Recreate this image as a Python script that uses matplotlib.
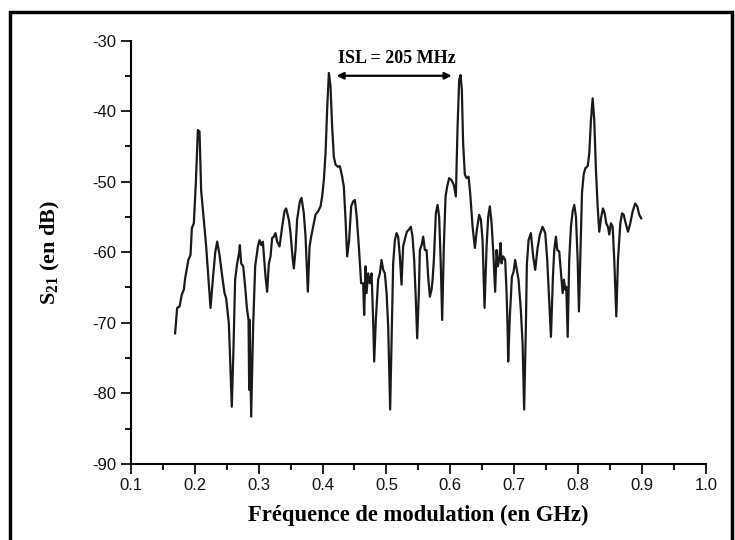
import numpy as np
import matplotlib
matplotlib.use("Agg")
import matplotlib.pyplot as plt
from matplotlib.patches import Rectangle
from matplotlib.ticker import MultipleLocator

plt.rcParams["mathtext.fontset"] = "custom"
plt.rcParams["mathtext.rm"] = "Liberation Serif:bold"
plt.rcParams["mathtext.bf"] = "Liberation Serif:bold"
plt.rcParams["axes.unicode_minus"] = False

# measured S21 response, frequency in GHz and magnitude in dB
freq = [
    0.1693, 0.1725, 0.1762, 0.1798, 0.1830, 0.1850, 0.1900, 0.1934, 0.1955, 0.1986,
    0.2017, 0.2049, 0.2075, 0.2100, 0.2142, 0.2179, 0.2216, 0.2247, 0.2283, 0.2320,
    0.2351, 0.2388, 0.2424, 0.2466, 0.2491, 0.2534, 0.2554, 0.2580, 0.2607, 0.2632,
    0.2664, 0.2695, 0.2706, 0.2727, 0.2758, 0.2789, 0.2816, 0.2842, 0.2852, 0.2860,
    0.2883, 0.2914, 0.2946, 0.2988, 0.3014, 0.3040, 0.3066, 0.3108, 0.3133, 0.3160,
    0.3186, 0.3211, 0.3238, 0.3264, 0.3290, 0.3327, 0.3368, 0.3405, 0.3430, 0.3473,
    0.3499, 0.3531, 0.3551, 0.3577, 0.3602, 0.3645, 0.3671, 0.3707, 0.3734, 0.3770,
    0.3797, 0.3822, 0.3864, 0.3890, 0.3931, 0.3969, 0.3994, 0.4020, 0.4047, 0.4072,
    0.4099, 0.4125, 0.4150, 0.4177, 0.4204, 0.4240, 0.4271, 0.4307, 0.4333, 0.4360,
    0.4385, 0.4416, 0.4448, 0.4479, 0.4506, 0.4535, 0.4568, 0.4604, 0.4636, 0.4651,
    0.4674, 0.4689, 0.4714, 0.4740, 0.4767, 0.4792, 0.4808, 0.4834, 0.4870, 0.4897,
    0.4923, 0.4949, 0.4975, 0.5002, 0.5027, 0.5058, 0.5085, 0.5105, 0.5132, 0.5158,
    0.5183, 0.5210, 0.5236, 0.5261, 0.5293, 0.5320, 0.5351, 0.5382, 0.5408, 0.5434,
    0.5460, 0.5481, 0.5507, 0.5523, 0.5550, 0.5575, 0.5601, 0.5628, 0.5653, 0.5680,
    0.5706, 0.5722, 0.5742, 0.5773, 0.5800, 0.5825, 0.5851, 0.5872, 0.5898, 0.5925,
    0.5950, 0.5981, 0.6019, 0.6055, 0.6086, 0.6113, 0.6138, 0.6160, 0.6180, 0.6200,
    0.6227, 0.6254, 0.6285, 0.6310, 0.6348, 0.6384, 0.6415, 0.6451, 0.6478, 0.6504,
    0.6535, 0.6567, 0.6592, 0.6618, 0.6645, 0.6670, 0.6701, 0.6723, 0.6743, 0.6764,
    0.6786, 0.6801, 0.6826, 0.6858, 0.6880, 0.6895, 0.6905, 0.6931, 0.6963, 0.6989,
    0.7014, 0.7041, 0.7067, 0.7103, 0.7130, 0.7155, 0.7182, 0.7197, 0.7224, 0.7260,
    0.7296, 0.7328, 0.7365, 0.7401, 0.7443, 0.7485, 0.7516, 0.7547, 0.7574, 0.7605,
    0.7626, 0.7652, 0.7673, 0.7704, 0.7731, 0.7757, 0.7777, 0.7798, 0.7814, 0.7836,
    0.7860, 0.7887, 0.7914, 0.7939, 0.7966, 0.7992, 0.8012, 0.8039, 0.8060, 0.8086,
    0.8112, 0.8149, 0.8174, 0.8200, 0.8227, 0.8252, 0.8278, 0.8305, 0.8330, 0.8361,
    0.8388, 0.8415, 0.8440, 0.8466, 0.8487, 0.8513, 0.8540, 0.8565, 0.8597, 0.8623,
    0.8660, 0.8687, 0.8713, 0.8738, 0.8780, 0.8816, 0.8853, 0.8893, 0.8925, 0.8956,
    0.8987,
]
s21 = [
    -71.5, -67.9, -67.7, -66.0, -65.3, -63.7, -61.1, -60.4, -56.6, -55.9,
    -50.2, -42.7, -42.9, -51.2, -55.4, -59.2, -63.9, -67.9, -63.9, -60.1,
    -58.5, -60.4, -63.0, -65.8, -66.5, -70.1, -75.3, -81.9, -73.4, -63.9,
    -61.6, -60.1, -59.0, -61.6, -62.0, -64.9, -67.9, -69.6, -79.5, -69.6,
    -83.3, -70.5, -62.0, -59.2, -58.3, -59.0, -58.5, -63.5, -65.6, -61.6,
    -60.6, -58.0, -57.8, -57.3, -58.5, -59.2, -56.4, -54.2, -53.8, -55.4,
    -57.3, -60.8, -62.3, -59.7, -55.4, -52.8, -52.3, -54.5, -57.8, -65.6,
    -59.2, -57.8, -55.9, -54.7, -54.2, -53.5, -52.1, -49.8, -46.0, -39.8,
    -34.6, -36.5, -42.2, -46.5, -47.6, -47.9, -47.8, -49.3, -50.7, -55.4,
    -60.6, -58.3, -53.5, -52.8, -52.6, -55.0, -59.2, -64.4, -64.4, -68.9,
    -62.0, -65.8, -63.0, -64.4, -63.0, -69.6, -75.5, -69.6, -63.9, -63.0,
    -61.1, -62.5, -63.0, -65.8, -70.5, -82.3, -70.5, -61.6, -58.3, -57.3,
    -57.8, -60.6, -64.6, -59.2, -58.0, -57.1, -56.8, -56.4, -57.8, -61.1,
    -66.8, -72.2, -65.8, -59.7, -59.0, -57.8, -59.7, -59.7, -63.5, -66.3,
    -65.3, -63.9, -61.1, -54.5, -53.3, -55.0, -62.0, -69.6, -59.2, -52.1,
    -50.7, -49.5, -49.8, -50.5, -52.1, -42.2, -35.6, -34.9, -37.0, -44.6,
    -49.0, -49.5, -49.3, -51.6, -56.4, -59.4, -56.8, -54.7, -55.4, -58.3,
    -67.9, -59.2, -55.0, -53.5, -55.9, -59.7, -65.6, -59.7, -62.0, -61.1,
    -58.7, -61.6, -60.6, -61.1, -65.8, -70.5, -75.5, -69.1, -63.5, -62.8,
    -61.1, -62.5, -63.9, -68.2, -72.9, -82.3, -70.5, -61.8, -58.3, -57.3,
    -60.6, -62.5, -59.4, -57.5, -56.4, -57.3, -61.1, -66.8, -72.0, -63.5,
    -59.7, -57.8, -59.7, -59.9, -63.0, -65.8, -63.9, -65.3, -64.9, -72.0,
    -61.1, -56.4, -54.2, -53.3, -55.0, -61.1, -68.4, -58.7, -51.6, -49.0,
    -48.1, -47.8, -46.0, -41.3, -38.2, -41.3, -48.3, -53.5, -57.1, -55.0,
    -53.8, -54.5, -55.9, -56.4, -57.5, -55.9, -56.4, -61.1, -69.1, -61.1,
    -55.9, -54.5, -54.7, -55.7, -57.1, -55.9, -54.2, -53.1, -53.5, -54.7,
    -55.2,
]

# free spectral range marker between two resonances
isl_start, isl_end, isl_level = 0.422, 0.602, -35.0
isl_text = "ISL = 205 MHz"

fig = plt.figure(figsize=(7.35, 5.4), dpi=100)
ax = fig.add_axes([0.178, 0.141, 0.7825, 0.784])

ax.plot(freq, s21, color="#1a1a1a", lw=1.6)

ax.set_xlim(0.1, 1.0)
ax.set_ylim(-90, -30)
ax.xaxis.set_major_locator(MultipleLocator(0.1))
ax.xaxis.set_minor_locator(MultipleLocator(0.05))
ax.yaxis.set_major_locator(MultipleLocator(10))
ax.yaxis.set_minor_locator(MultipleLocator(5))
ax.set_xticklabels([f"{v:.1f}" for v in ax.get_xticks()])

for side in ("top", "right"):
    ax.spines[side].set_visible(False)
for side in ("left", "bottom"):
    ax.spines[side].set_linewidth(1.5)

ax.tick_params(which="major", direction="out", length=7, width=1.3,
               labelsize=12, colors="#111111")
ax.tick_params(which="minor", direction="out", length=4, width=1.3)
for lab in ax.get_xticklabels() + ax.get_yticklabels():
    lab.set_family("Liberation Sans")

ax.set_xlabel("Fréquence de modulation (en GHz)", family="Liberation Serif",
              fontweight="bold", fontsize=16.3, labelpad=8)
ax.set_ylabel(r"S$_{21}$ (en dB)", family="Liberation Serif",
              fontweight="bold", fontsize=16, labelpad=22)

ax.annotate("", xy=(isl_start, isl_level), xytext=(isl_end, isl_level),
            arrowprops=dict(arrowstyle="<|-|>", color="black", lw=1.6,
                            mutation_scale=10, shrinkA=0, shrinkB=0))
ax.text(0.516, isl_level + 2.5, isl_text,
        ha="center", va="center", family="Liberation Serif",
        fontweight="bold", fontsize=13)

# black frame round the whole figure
fig.patches.append(Rectangle((0.0136, -0.05), 0.982, 1.028,
                             transform=fig.transFigure, fill=False,
                             edgecolor="black", lw=2.5))

fig.savefig("out.png", dpi=100)
